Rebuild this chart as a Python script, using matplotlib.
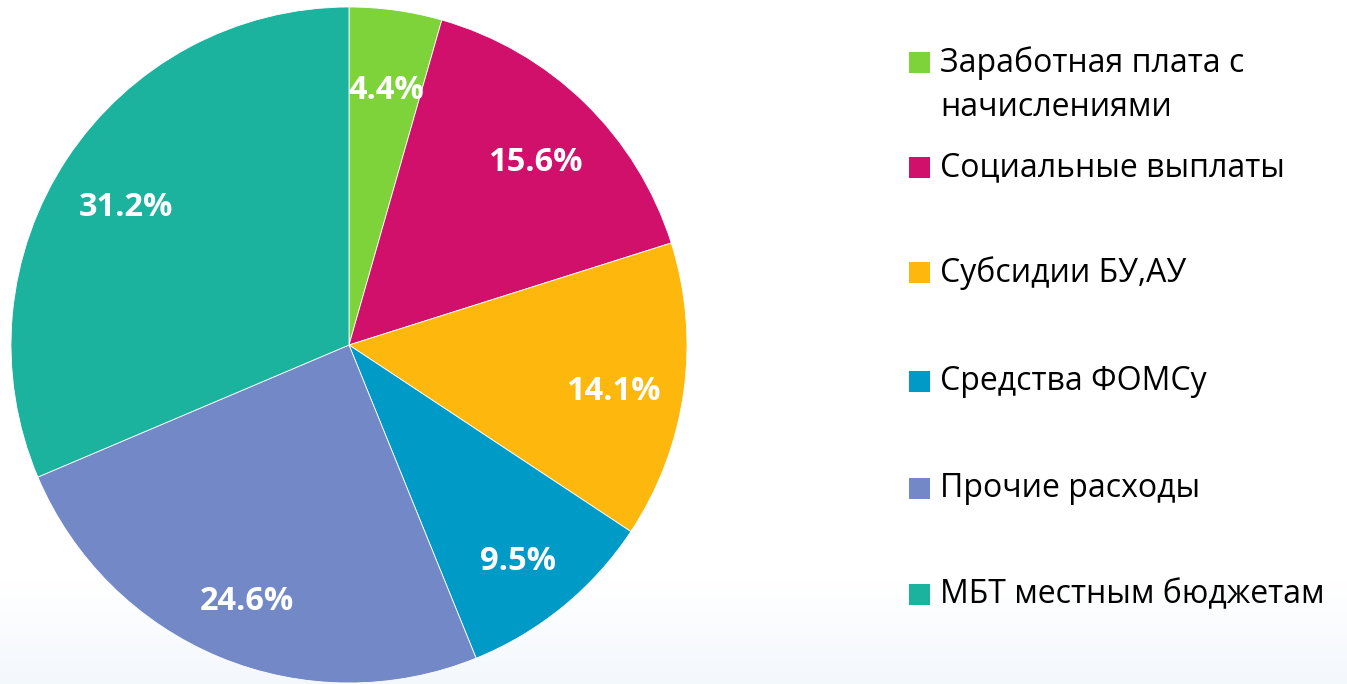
import matplotlib.pyplot as plt
from matplotlib.patches import Rectangle
import numpy as np

labels = ['Заработная плата с\nначислениями', 'Социальные выплаты', 'Субсидии БУ,АУ',
          'Средства ФОМСу', 'Прочие расходы', 'МБТ местным бюджетам']
shares = [4.4, 15.6, 14.1, 9.5, 24.6, 31.2]
colors = ['#7ED23A', '#D0106B', '#FDB70D', '#009AC6', '#7389C7', '#1BB29E']

plt.rcParams['font.family'] = ['Open Sans', 'DejaVu Sans']

W, H = 1347, 684
fig = plt.figure(figsize=(W / 100, H / 100), dpi=100)

# faint blue gradient near the bottom
bg = fig.add_axes([0, 0, 1, 1], zorder=-10)
grad = np.ones((H, 1, 3))
t = np.clip((np.arange(H) - 580) / (H - 580), 0, 1)[:, None]
grad[:, 0, :] = 1 - t * (1 - np.array([0.955, 0.972, 0.992]))
bg.imshow(grad, aspect='auto', extent=[0, 1, 1, 0])
bg.set_xlim(0, 1)
bg.set_ylim(1, 0)
bg.axis('off')

cx, cy, r = 349, 345, 338
ax = fig.add_axes([(cx - r) / W, (H - cy - r) / H, 2 * r / W, 2 * r / H])
wedges, texts = ax.pie(shares, colors=colors, startangle=90, counterclock=False,
                       labels=['%.1f%%' % v for v in shares], labeldistance=0.79,
                       wedgeprops=dict(edgecolor='white', linewidth=0.6),
                       textprops=dict(color='white', fontsize=23.5, fontweight='bold'))
for tx in texts:
    tx.set_ha('center')
    tx.set_va('center')
    x, y = tx.get_position()
    tx.set_position((x, y - 0.028))
ax.set_xlim(-1, 1)
ax.set_ylim(-1, 1)
ax.set_aspect('equal')
ax.axis('off')

# legend drawn by hand
ys = [62, 167, 272, 381, 488, 594]
for lab, col, y in zip(labels, colors, ys):
    fig.patches.append(Rectangle((909 / W, (H - y - 10.5) / H), 21 / W, 21 / H,
                                 transform=fig.transFigure, facecolor=col, edgecolor='none'))
    fig.text(940 / W, (H - y + 16) / H, lab, fontsize=23, va='top', ha='left',
             color='black', linespacing=1.45)

fig.savefig('out.png', dpi=100)
